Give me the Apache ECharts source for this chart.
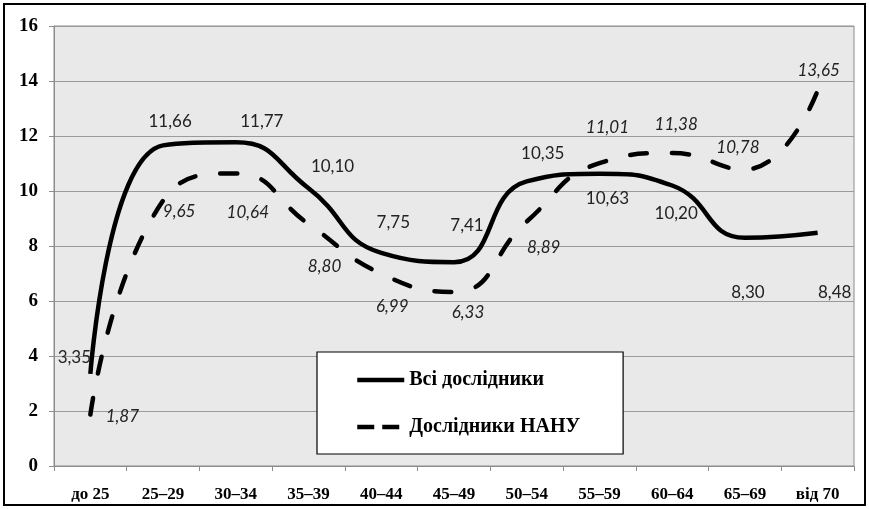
<!DOCTYPE html>
<html>
<head>
<meta charset="utf-8">
<script src="https://cdn.jsdelivr.net/npm/echarts@6/dist/echarts.min.js"></script>
<style>
html,body{margin:0;padding:0;background:#fff;}
#c{width:869px;height:509px;}
</style>
</head>
<body>
<div id="c"></div>
<script>
const categories = ['до 25','25–29','30–34','35–39','40–44','45–49','50–54','55–59','60–64','65–69','від 70'];
const allResearchers = [3.35, 11.66, 11.77, 10.10, 7.75, 7.41, 10.35, 10.63, 10.20, 8.30, 8.48];
const nasuResearchers = [1.87, 9.65, 10.64, 8.80, 6.99, 6.33, 8.89, 11.01, 11.38, 10.78, 13.65];
const seriesNames = ['Всі дослідники', 'Дослідники НАНУ'];
const yTicks = {min: 0, max: 16, interval: 2};

// label offsets (style only)
const offAll = [[-16,-16],[7,-24],[26,-21],[24,-22],[12,-30],[13,-37],[16,-28],[8,25],[4,28],[3,55],[17,60]];
const offNasu = [[32,2],[16,11],[12,39],[16,43],[11,33],[14,21],[17,26],[8,-36],[4,-29],[-7,-22],[1,-20]];

const fmt = v => v.toFixed(2).replace('.', ',');
function build(vals, offs){
  return vals.map((v,i)=>({value:v, label:{offset:offs[i]}}));
}
const chart = echarts.init(document.getElementById('c'));
chart.setOption({
  animation:false,
  backgroundColor:'#fff',
  grid:{left:54,right:15,top:26,bottom:43,show:true,backgroundColor:'#e9e9e9',borderColor:'#8c8c8c',borderWidth:1},
  xAxis:{type:'category',data:categories,boundaryGap:true,
    axisLine:{lineStyle:{color:'#8c8c8c',width:1}},
    axisTick:{show:true,length:5,lineStyle:{color:'#8c8c8c'}},
    axisLabel:{color:'#000',fontFamily:'Liberation Serif',fontWeight:'bold',fontSize:17,margin:20}},
  yAxis:{type:'value',min:yTicks.min,max:yTicks.max,interval:yTicks.interval,
    axisLine:{show:true,lineStyle:{color:'#8c8c8c'}},
    axisTick:{show:true,length:5,lineStyle:{color:'#8c8c8c'}},
    splitLine:{lineStyle:{color:'#9a9a9a',width:1}},
    axisLabel:{color:'#000',fontFamily:'Liberation Serif',fontWeight:'bold',fontSize:19,margin:16}},
  legend:{
    orient:'vertical',left:317,top:352,
    backgroundColor:'#fff',borderColor:'#000',borderWidth:1.2,
    padding:[18,43,17,38],itemGap:27,itemWidth:47,itemHeight:20,
    itemStyle:{opacity:0},
    textStyle:{fontFamily:'Liberation Serif',fontWeight:'bold',fontSize:20,color:'#000'},
    data:[
      {name:seriesNames[0], lineStyle:{width:4.5,type:'solid'}},
      {name:seriesNames[1], lineStyle:{width:4.5,type:[17,8],cap:'butt'}}
    ]
  },
  series:[
    {name:seriesNames[0],type:'line',smooth:0.5,data:build(allResearchers,offAll),
      symbol:'circle',symbolSize:0.01,itemStyle:{color:'#000'},
      lineStyle:{color:'#000',width:4.5,join:'round'},
      label:{show:true,position:'inside',formatter:p=>fmt(p.value),fontFamily:'Lato',fontSize:17,color:'#222'}},
    {name:seriesNames[1],type:'line',smooth:0.5,data:build(nasuResearchers,offNasu),
      symbol:'circle',symbolSize:0.01,itemStyle:{color:'#000'},
      lineStyle:{color:'#000',width:4.5,type:[17,25],cap:'round',join:'round'},
      label:{show:true,position:'inside',formatter:p=>fmt(p.value),fontFamily:'Lato',fontStyle:'italic',fontSize:17,color:'#222'}}
  ],
  graphic:[{type:'rect',shape:{x:4,y:4,width:861,height:501},style:{fill:'none',stroke:'#000',lineWidth:2},silent:true,z:100}]
});
</script>
</body>
</html>
